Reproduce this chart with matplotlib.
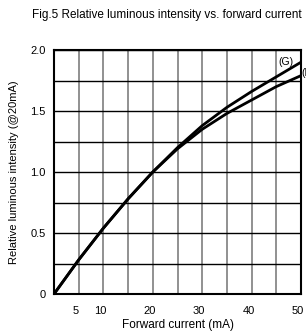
import numpy as np
import matplotlib
matplotlib.use('Agg')
import matplotlib.pyplot as plt
import matplotlib.transforms as mtransforms

plt.rcParams['font.family'] = ['Liberation Sans', 'DejaVu Sans']

# data
current = [0, 5, 10, 15, 20, 25, 30, 35, 40, 45, 50]
lum_g = [0, 0.28, 0.54, 0.78, 1.0, 1.2, 1.38, 1.53, 1.66, 1.78, 1.9]
lum_b = [0, 0.28, 0.54, 0.78, 1.0, 1.19, 1.35, 1.48, 1.59, 1.70, 1.79]
x_ticks = [5, 10, 20, 30, 40, 50]
y_ticks = [0, 0.5, 1.0, 1.5, 2.0]
y_ticklabels = ['0', '0.5', '1.0', '1.5', '2.0']

fig = plt.figure(figsize=(3.06, 3.31), dpi=100)
ax = fig.add_axes([54/306, 37/331, 247/306, 244/331])

ax.plot(current, lum_g, color='black', lw=2.0, solid_capstyle='butt')
ax.plot(current, lum_b, color='black', lw=2.0, solid_capstyle='butt')

ax.set_xlim(0, 50)
ax.set_ylim(0, 2.0)

# grid: gray verticals every 5 mA, black horizontals every 0.25
ax.xaxis.remove_overlapping_locs = False
ax.yaxis.remove_overlapping_locs = False
ax.set_xticks(np.arange(0, 51, 5), minor=True)
ax.set_yticks(np.arange(0, 2.01, 0.25), minor=True)
ax.grid(which='minor', axis='x', color='#888888', lw=1.3)
ax.grid(which='minor', axis='y', color='black', lw=1.0)
ax.grid(which='major', visible=False)
ax.set_axisbelow(True)

ax.set_xticks(x_ticks)
ax.set_xticklabels([str(v) for v in x_ticks])
ax.set_yticks(y_ticks)
ax.set_yticklabels(y_ticklabels)
ax.tick_params(which='both', length=0, labelsize=8)
ax.tick_params(axis='x', pad=9)
ax.tick_params(axis='y', pad=6)

# tick labels sit slightly left of their grid lines in the original
shift = mtransforms.ScaledTranslation(-3/100, 0, fig.dpi_scale_trans)
for lbl in ax.get_xticklabels():
    lbl.set_transform(lbl.get_transform() + shift)

for s in ax.spines.values():
    s.set_linewidth(1.5)
    s.set_color('black')

ax.set_xlabel('Forward current (mA)', fontsize=8.5, labelpad=2)
ax.set_ylabel('Relative luminous intensity (@20mA)', fontsize=8, labelpad=8)

fig.text(167/306, 1 - 15/331, 'Fig.5 Relative luminous intensity vs. forward current',
         ha='center', va='center', fontsize=8.5)

ax.text(0.94, 0.95, '(G)', transform=ax.transAxes, fontsize=7.5, ha='center', va='center')
ax.text(1.003, 0.905, '(B)', transform=ax.transAxes, fontsize=7.5, ha='left', va='center',
        clip_on=False)

fig.savefig('out.png', dpi=100)
